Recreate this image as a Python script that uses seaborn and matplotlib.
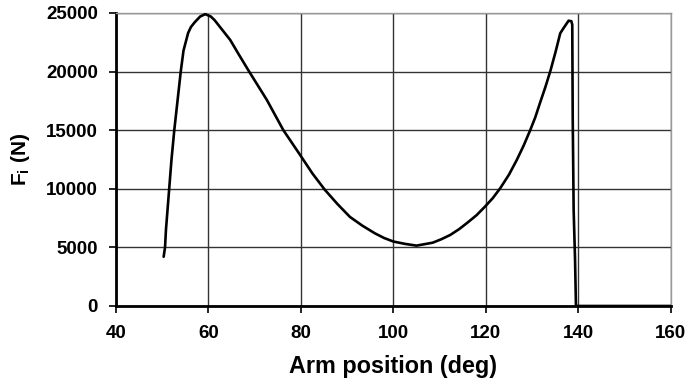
import matplotlib
matplotlib.use("Agg")
import matplotlib.pyplot as plt
import seaborn as sns
import pandas as pd

arm_position = [50.3, 50.6, 50.8, 51.1, 51.5, 52.0, 52.6, 53.3, 54.0, 54.6, 55.6, 56.2, 57.0,
                58.2, 59.3, 60.5, 61.3, 62.1, 64.7, 66.5, 68.8, 70.7, 72.6, 74.4, 76.2, 79.8,
                82.5, 85.2, 87.9, 90.6, 93.3, 96.0, 98.0, 100.0, 102.5, 105.0, 108.5, 110.4,
                112.3, 114.2, 116.0, 118.0, 119.8, 121.5, 123.1, 125.0, 126.7, 128.2, 129.6,
                130.7, 131.7, 132.9, 134.0, 135.1, 136.1, 136.8, 137.9, 138.5, 138.7, 138.8,
                139.0, 139.3, 139.5, 160.0]
force = [4200, 5000, 6500, 8000, 10000, 12500, 15000, 17500, 20000, 21800, 23300, 23800, 24200,
         24700, 24900, 24700, 24400, 24000, 22700, 21500, 20000, 18800, 17600, 16300, 15000, 12900,
         11300, 9900, 8700, 7600, 6850, 6200, 5800, 5500, 5300, 5150, 5400, 5700,
         6060, 6550, 7100, 7750, 8470, 9200, 10040, 11200, 12460, 13700, 15000,
         16100, 17300, 18700, 20100, 21700, 23270, 23700, 24340, 24300, 24000, 16000,
         8200, 4000, 0, 0]

x_ticks = [40, 60, 80, 100, 120, 140, 160]
y_ticks = [0, 5000, 10000, 15000, 20000, 25000]

df = pd.DataFrame({"Arm position (deg)": arm_position, "F": force})

sns.set_style("white")
plt.rcParams["font.family"] = ["Liberation Sans", "DejaVu Sans"]
plt.rcParams["mathtext.fontset"] = "custom"
plt.rcParams["mathtext.rm"] = "Liberation Sans"
plt.rcParams["mathtext.bf"] = "Liberation Sans:bold"
plt.rcParams["mathtext.it"] = "Liberation Sans:italic"
plt.rcParams["text.color"] = "black"
plt.rcParams["axes.labelcolor"] = "black"

fig = plt.figure(figsize=(6.87, 3.82), dpi=100)
ax = fig.add_axes([0.1689, 0.199, 0.9763 - 0.1689, 0.966 - 0.199])

sns.lineplot(data=df, x="Arm position (deg)", y="F", sort=False, estimator=None,
             color="black", linewidth=1.9, ax=ax, zorder=3)

ax.set_xlim(40, 160)
ax.set_ylim(0, 25000)
ax.set_xticks(x_ticks)
ax.set_yticks(y_ticks)
ax.set_xticklabels([str(t) for t in x_ticks], fontweight="bold", fontsize=13.5)
ax.set_yticklabels([str(t) for t in y_ticks], fontweight="bold", fontsize=13.5)
ax.grid(True, color="#333333", linewidth=1.0, zorder=1)
ax.set_axisbelow(True)

for side in ["top", "right"]:
    ax.spines[side].set_visible(True)
    ax.spines[side].set_color("#999999")
    ax.spines[side].set_linewidth(1.0)
for side in ["left", "bottom"]:
    ax.spines[side].set_color("black")
    ax.spines[side].set_linewidth(2.0)

ax.tick_params(axis="both", direction="out", length=5, width=1.2, color="black",
               labelcolor="black", left=True, bottom=True)
ax.tick_params(axis="x", pad=9)
ax.tick_params(axis="y", pad=8)

ax.set_xlabel("Arm position (deg)", fontweight="bold", fontsize=16.8, labelpad=9, color="black")
ax.set_ylabel(r"$\mathbf{F_{i}}$ (N)", fontweight="bold", fontsize=15, labelpad=10, color="black")

fig.savefig("out.png", dpi=100)
